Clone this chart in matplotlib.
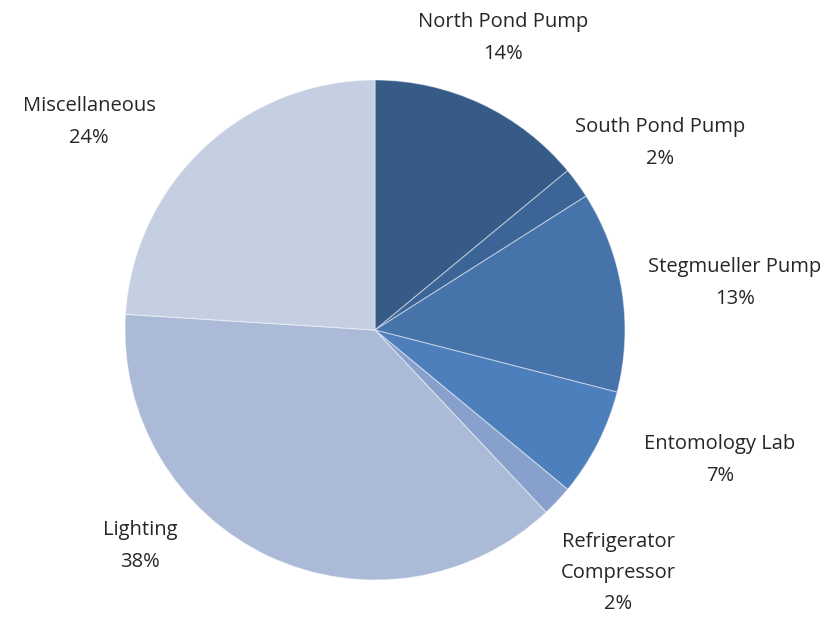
import matplotlib
matplotlib.use("Agg")
import matplotlib.pyplot as plt

# Energy use by load
categories = ["North Pond Pump", "South Pond Pump", "Stegmueller Pump",
              "Entomology Lab", "Refrigerator\nCompressor", "Lighting",
              "Miscellaneous"]
shares = [14, 2, 13, 7, 2, 38, 24]
colors = ["#365b87", "#3b6597", "#4773ab", "#4d7fbc", "#88a1cc",
          "#abbad7", "#c4cfe2"]

# label anchor points in pixels of the 836x621 canvas
label_px = [(503, 38), (660, 143), (735, 283), (720, 460),
            (618, 573), (140, 546), (89, 122)]

W, H = 836, 621
cx, cy, r = 375, 330, 250

fig = plt.figure(figsize=(W / 100, H / 100), dpi=100)
ax = fig.add_axes([(cx - r) / W, (H - cy - r) / H, 2 * r / W, 2 * r / H])
ax.pie(shares, colors=colors, startangle=90, counterclock=False, radius=1,
       wedgeprops=dict(edgecolor=(1, 1, 1, 0.45), linewidth=0.8))
ax.set_xlim(-1, 1)
ax.set_ylim(-1, 1)
ax.set_aspect("equal")
ax.axis("off")

for name, val, (px, py) in zip(categories, shares, label_px):
    x = (px - cx) / r
    y = (cy - py) / r
    ax.text(x, y, f"{name}\n{val}%", ha="center", va="center",
            fontsize=14.5, family=["Open Sans", "DejaVu Sans"], color="#262626",
            linespacing=1.75, clip_on=False)

fig.savefig("out.png", dpi=100)
